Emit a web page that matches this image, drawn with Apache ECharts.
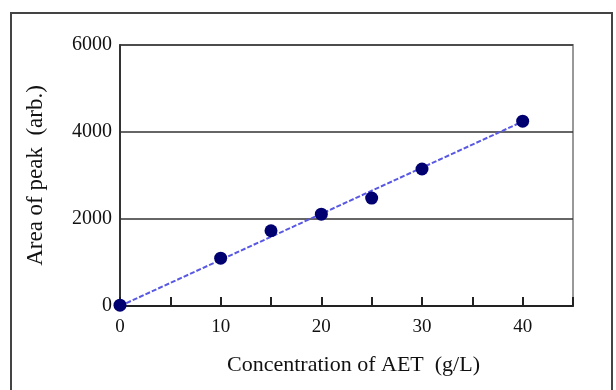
<!DOCTYPE html>
<html>
<head>
<meta charset="utf-8">
<script src="https://cdn.jsdelivr.net/npm/echarts@6/dist/echarts.min.js"></script>
<style>
  html, body { margin: 0; padding: 0; background: #fff; }
  #chart { width: 616px; height: 390px; }
</style>
</head>
<body>
<div id="chart"></div>
<script>
// Calibration data: peak area vs. AET concentration
const concentration = [0, 10, 15, 20, 25, 30, 40];
const peakArea = [20, 1100, 1730, 2110, 2480, 3150, 4250];

// Linear fit through the calibration points
const fitX = [0, 40];
const fitY = [0, 4240];

const xTickLabels = ['0', '10', '20', '30', '40'];
const yTickLabels = ['0', '2000', '4000', '6000'];

const serif = '"Liberation Serif", "DejaVu Serif", serif';

const chart = echarts.init(document.getElementById('chart'), null, { renderer: 'canvas' });

chart.setOption({
  animation: false,
  backgroundColor: '#fff',
  graphic: [{
    type: 'rect',
    shape: { x: 11, y: 13, width: 601, height: 400 },
    style: { fill: 'none', stroke: '#444', lineWidth: 2 },
    silent: true
  }],
  grid: {
    left: 120, right: 43, top: 45, bottom: 84,
    show: true, borderColor: '#999', borderWidth: 2, backgroundColor: 'transparent'
  },
  xAxis: {
    type: 'value', min: 0, max: 45, interval: 5,
    name: 'Concentration of AET  (g/L)',
    nameLocation: 'middle', nameGap: 48,
    nameTextStyle: { fontFamily: serif, fontSize: 22, color: '#111', padding: [0, 0, 0, 14] },
    axisLine: { show: true, lineStyle: { color: '#222', width: 2 } },
    axisTick: { show: true, inside: true, length: 9, lineStyle: { color: '#222', width: 2 } },
    axisLabel: {
      fontFamily: serif, fontSize: 19, color: '#111', margin: 12,
      formatter: v => xTickLabels.includes(String(v)) ? String(v) : ''
    },
    splitLine: { show: false }
  },
  yAxis: {
    type: 'value', min: 0, max: 6000, interval: 2000,
    name: 'Area of peak  (arb.)',
    nameLocation: 'middle', nameGap: 73, nameRotate: 90,
    nameTextStyle: { fontFamily: serif, fontSize: 23, color: '#111' },
    axisLine: { show: true, lineStyle: { color: '#333', width: 2 } },
    axisTick: { show: false },
    axisLabel: {
      fontFamily: serif, fontSize: 20, color: '#111', margin: 8,
      formatter: v => yTickLabels.includes(String(v)) ? String(v) : ''
    },
    splitLine: { show: true, lineStyle: { color: '#333', width: 1.5 } }
  },
  series: [
    {
      name: 'fit',
      type: 'line',
      data: fitX.map((x, i) => [x, fitY[i]]),
      showSymbol: false,
      lineStyle: { color: '#5858e4', width: 2, type: [5, 2] },
      z: 2
    },
    {
      name: 'measured',
      type: 'scatter',
      data: concentration.map((x, i) => [x, peakArea[i]]),
      symbol: 'circle',
      symbolSize: 13,
      itemStyle: { color: '#000070', opacity: 1 },
      z: 3
    }
  ]
});
</script>
</body>
</html>
